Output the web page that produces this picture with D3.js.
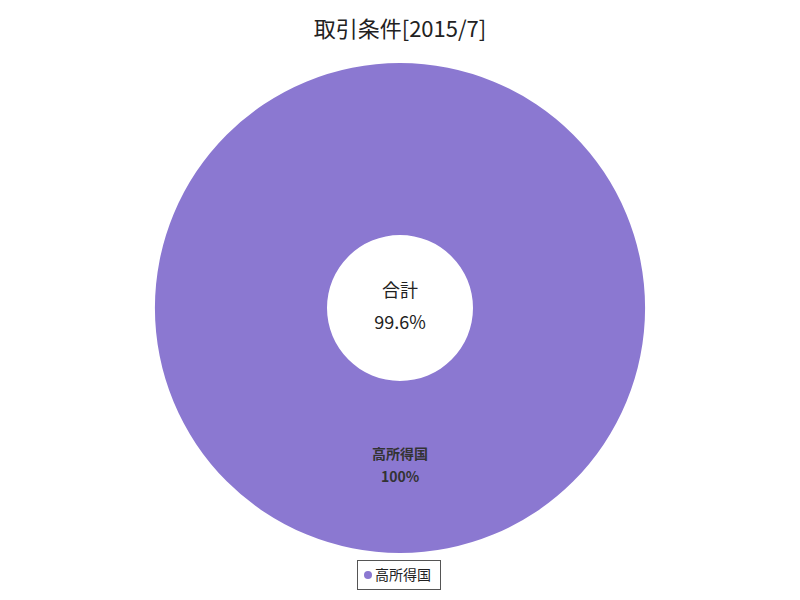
<!DOCTYPE html>
<html>
<head>
<meta charset="utf-8">
<script src="https://cdn.jsdelivr.net/npm/d3@7"></script>
<style>
  body { margin: 0; background: #fff; }
  text { font-family: "Noto Sans CJK JP", sans-serif; }
</style>
</head>
<body>
<svg width="800" height="600"></svg>
<script>
// data
var categories = ["高所得国"];
var values = [100];
var sliceLabels = ["100%"];
var colors = ["#8b78d1"];
var totalLabel = "合計";
var totalValue = "99.6%";
var title = "取引条件[2015/7]";

var pic = d3.select("svg");
var cx = 400, cy = 308;
var outerR = 245, innerR = 73;

pic.append("text")
  .attr("x", 400).attr("y", 37)
  .attr("text-anchor", "middle")
  .attr("font-size", 22)
  .attr("fill", "#222")
  .text(title);

var g = pic.append("g").attr("transform", "translate(" + cx + "," + cy + ")");

var pie = d3.pie().sort(null);
var arc = d3.arc().innerRadius(innerR).outerRadius(outerR);
var arcs = pie(values);

g.selectAll("path.slice")
  .data(arcs)
  .enter().append("path")
  .attr("class", "slice")
  .attr("d", arc)
  .attr("fill", function(d, i) { return colors[i]; });

// slice labels at the centroid
arcs.forEach(function(d, i) {
  var c = arc.centroid(d);
  var t = g.append("text")
    .attr("text-anchor", "middle")
    .attr("font-size", 14)
    .attr("font-weight", "bold")
    .attr("fill", "#333");
  t.append("tspan").attr("x", c[0]).attr("y", c[1] - 8).text(categories[i]);
  t.append("tspan").attr("x", c[0]).attr("y", c[1] + 15).text(sliceLabels[i]);
});

// centre total
g.append("text")
  .attr("x", 0).attr("y", -11)
  .attr("text-anchor", "middle")
  .attr("font-size", 18)
  .attr("fill", "#222")
  .text(totalLabel);
g.append("text")
  .attr("x", 0).attr("y", 21)
  .attr("text-anchor", "middle")
  .attr("font-size", 18)
  .attr("fill", "#222")
  .text(totalValue);

// legend
var legend = pic.append("g");
legend.append("rect")
  .attr("x", 357.5).attr("y", 560.5)
  .attr("width", 83).attr("height", 29)
  .attr("fill", "#fff")
  .attr("stroke", "#555")
  .attr("stroke-width", 1);
categories.forEach(function(c, i) {
  legend.append("circle")
    .attr("cx", 368).attr("cy", 575)
    .attr("r", 4)
    .attr("fill", colors[i]);
  legend.append("text")
    .attr("x", 375).attr("y", 580)
    .attr("font-size", 14)
    .attr("fill", "#222")
    .text(c);
});
</script>
</body>
</html>
